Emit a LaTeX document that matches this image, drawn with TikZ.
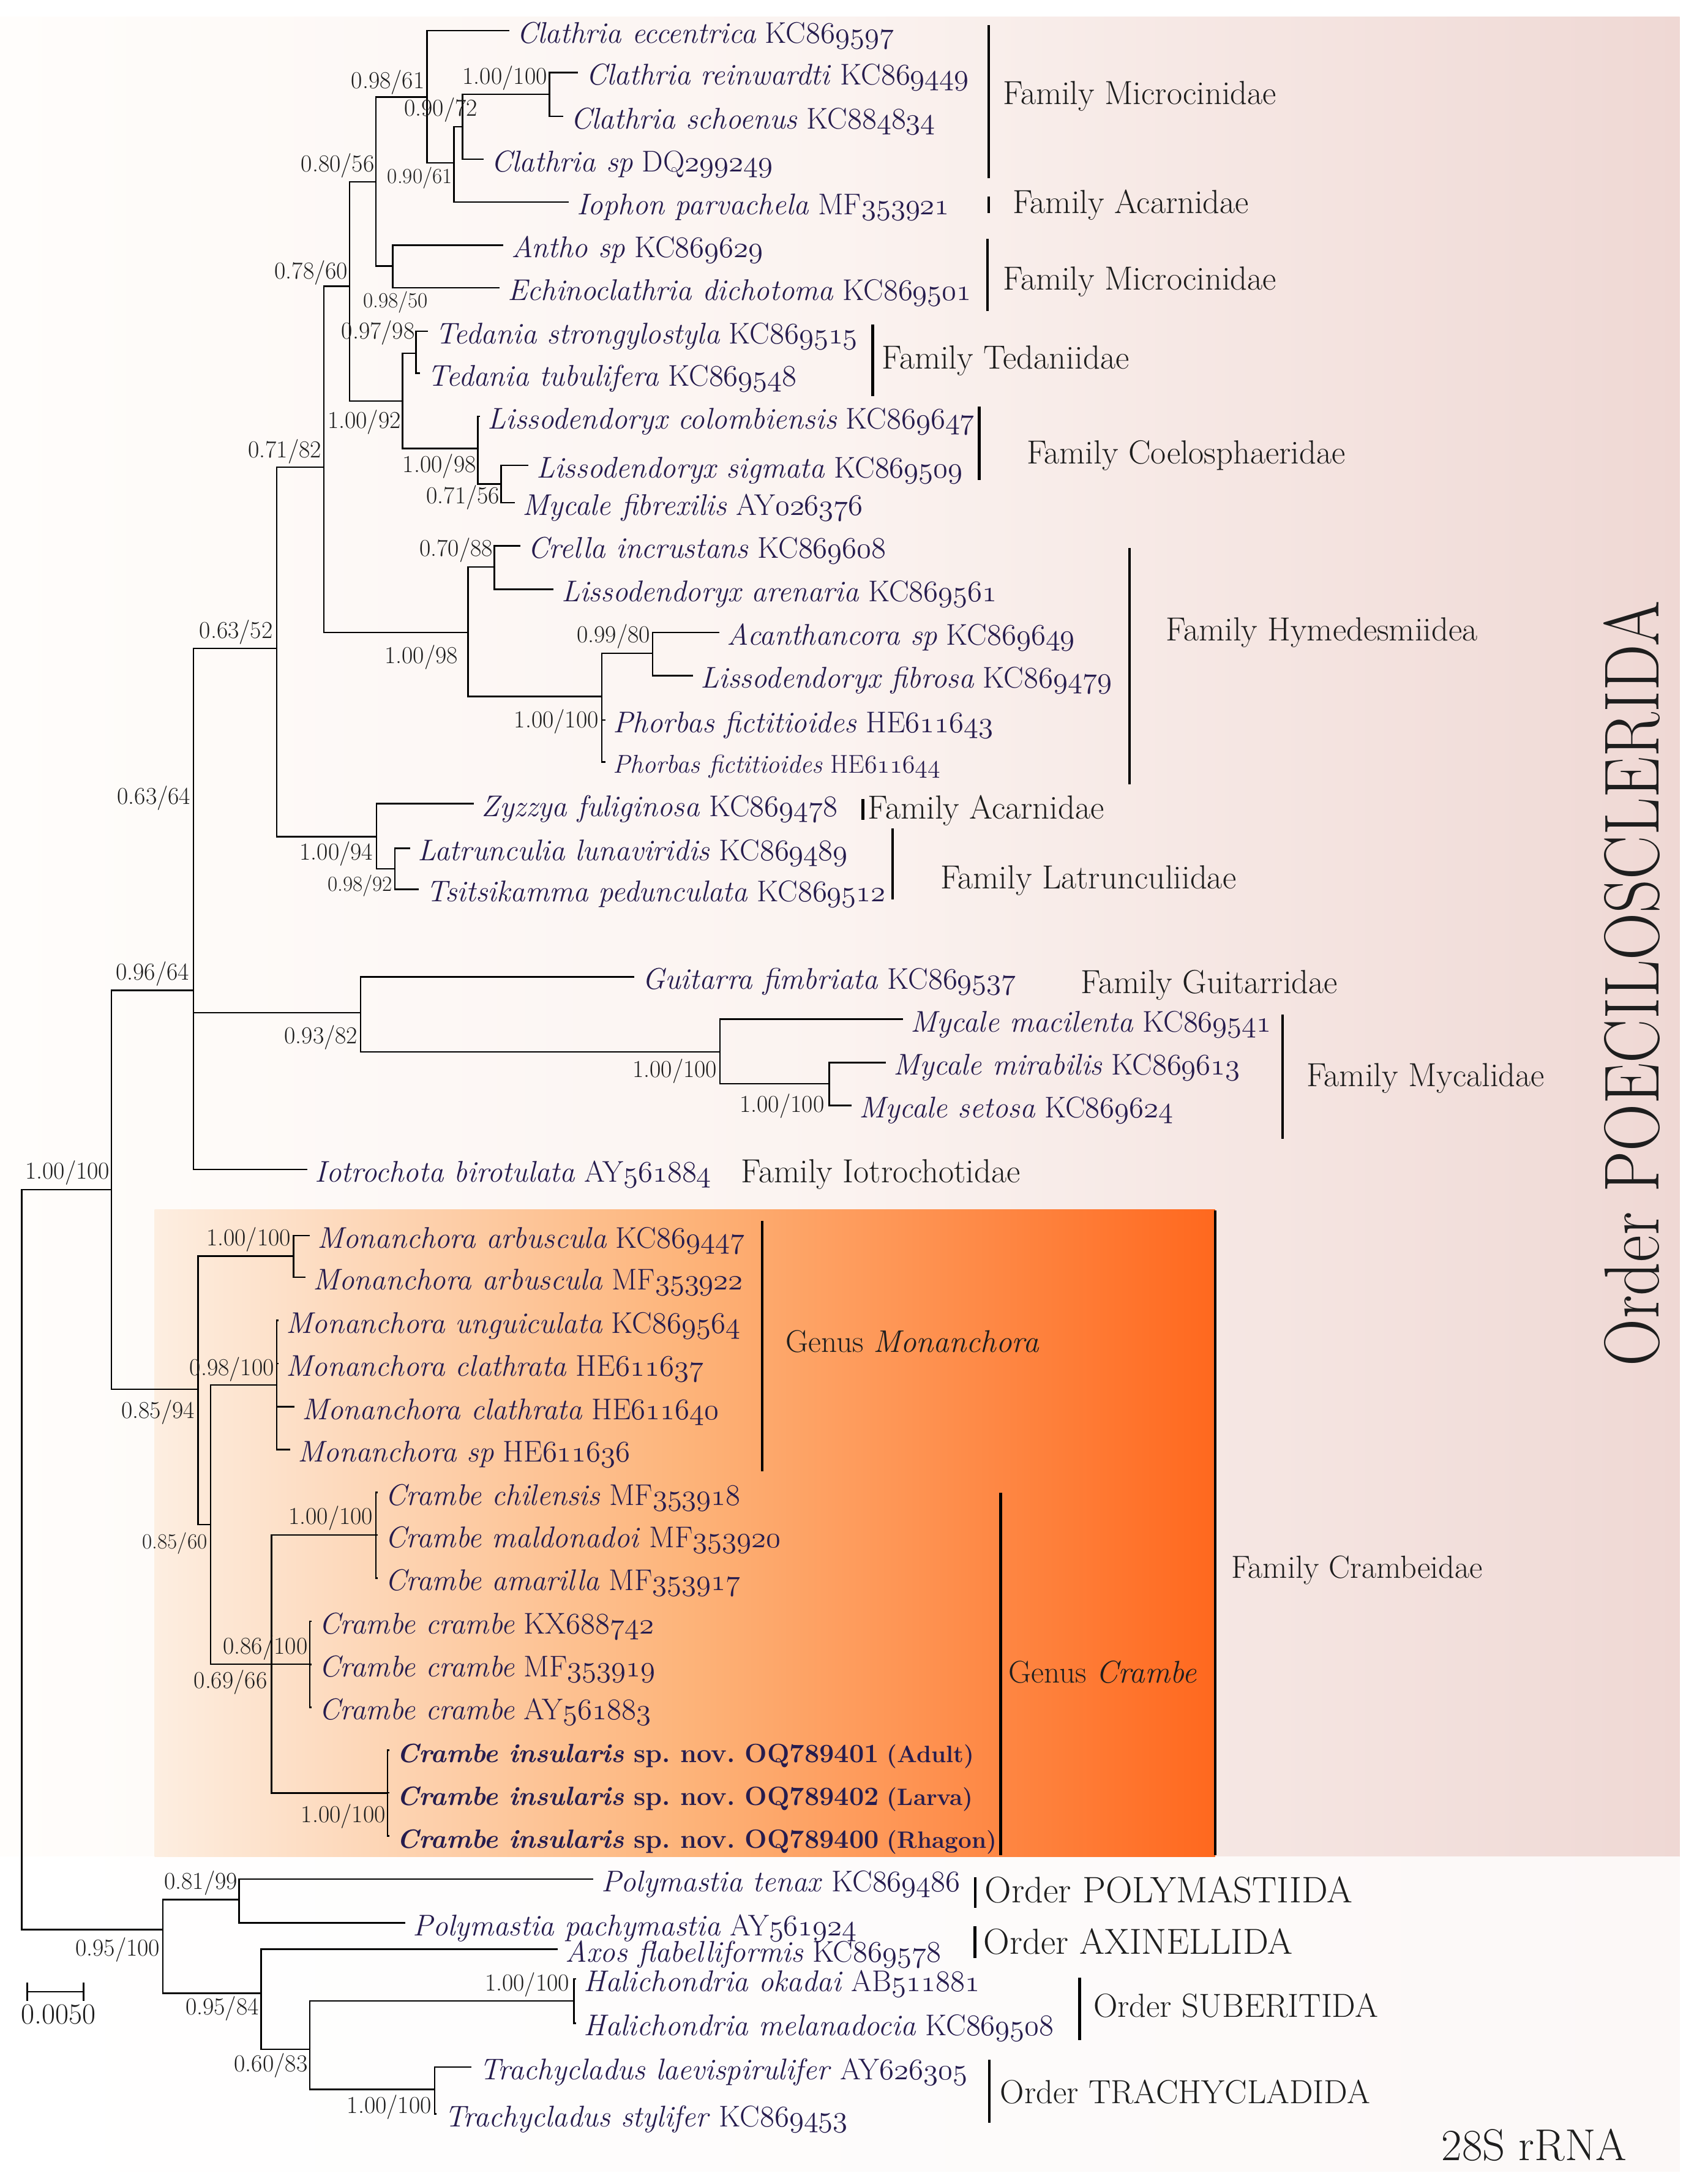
\RequirePackage{fix-cm}
\documentclass[tikz,border=0pt]{standalone}
\usepackage{graphicx}

\definecolor{leafc}{RGB}{38,28,78}
\definecolor{supc}{RGB}{30,30,30}
\definecolor{pkL}{RGB}{255,253,251}
\definecolor{pkM}{RGB}{251,243,240}
\definecolor{pkR}{RGB}{239,216,212}
\definecolor{pkB}{RGB}{252,248,247}
\definecolor{orL}{RGB}{253,238,225}
\definecolor{orM}{RGB}{253,180,122}
\definecolor{orR}{RGB}{255,104,30}

% old style digits for the accession numbers
\newcommand{\osn}[1]{{\usefont{OML}{cmm}{m}{it}#1}}
\newcommand{\taxon}[3]{\textit{#1} #2\osn{#3}}
\newcommand{\insul}[2]{\textbf{\textit{Crambe insularis} sp.\ nov.\ OQ#1} {\fontsize{17}{20}\selectfont\textbf{(#2)}}}

\begin{document}
\begin{tikzpicture}[x=1pt, y=-1pt,
    branch/.style={line width=1.1pt, line cap=rect},
    bracket/.style={line width=2pt},
    leaf/.style={anchor=base west, inner xsep=6pt, inner ysep=0pt, yshift=-9pt, text=leafc, font=\fontsize{21.5}{25}\selectfont},
    sup/.style={inner sep=1pt, text=supc, font=\fontsize{17.5}{20}\selectfont},
    supsmall/.style={sup, font=\fontsize{15.5}{18}\selectfont},
    fam/.style={anchor=base west, inner sep=0pt, yshift=-8pt, text=supc, font=\fontsize{24}{28}\selectfont},
    ord/.style={anchor=base west, inner sep=0pt, yshift=-8pt, text=supc, font=\fontsize{24}{28}\selectfont}]

    % page and backgrounds
    \fill[white] (0,0) rectangle (1224,1568);
    \useasboundingbox (0,0) rectangle (1224,1568);
    \shade[left color=pkL, right color=pkR, middle color=pkM] (0,12) rectangle (1206,1333);
    \shade[left color=white, right color=pkB] (0,1333) rectangle (1206,1559);
    \shade[left color=orL, right color=orR, middle color=orM] (111,868.5) rectangle (872.5,1333);

    % internal nodes
    \coordinate (nR0) at (15.6,1120);
    \coordinate (nV) at (80,854);
    \coordinate (nT) at (139,711);
    \coordinate (nM) at (198.6,465.5);
    \coordinate (nI) at (232.5,335.5);
    \coordinate (nF) at (251,205.5);
    \coordinate (nE) at (270,130.5);
    \coordinate (nA) at (306.5,69.7);
    \coordinate (nB) at (326,117);
    \coordinate (nC) at (332,90.9);
    \coordinate (nD) at (394.6,67.7);
    \coordinate (nG) at (282,191);
    \coordinate (nH) at (289,288);
    \coordinate (nJ) at (298.7,253.6);
    \coordinate (nK) at (343,322);
    \coordinate (nL) at (359.7,347.5);
    \coordinate (nN) at (336,454);
    \coordinate (nO) at (355,407);
    \coordinate (nP) at (432,500);
    \coordinate (nQ) at (468.5,469);
    \coordinate (nR) at (270.4,600.6);
    \coordinate (nS) at (283.5,623.7);
    \coordinate (nU) at (259,727);
    \coordinate (nW) at (517,755.2);
    \coordinate (nX) at (595.3,778);
    \coordinate (nY) at (142.2,997.5);
    \coordinate (nZ1) at (210.8,901.8);
    \coordinate (nY2) at (151.3,1094.6);
    \coordinate (nZ2) at (198.7,994.3);
    \coordinate (nY3) at (195,1194.8);
    \coordinate (nZ3) at (269.8,1102);
    \coordinate (nZ4) at (222.4,1194.8);
    \coordinate (nZ5) at (278.2,1287.3);
    \coordinate (nAA) at (117,1385.4);
    \coordinate (nAB) at (171.7,1363.7);
    \coordinate (nAC) at (187.4,1431);
    \coordinate (nAD) at (222.5,1471.3);
    \coordinate (nAE) at (412.2,1436.6);
    \coordinate (nAF) at (312.2,1500);

    % tips
    \coordinate (e1) at (365,22);
    \coordinate (e2) at (414.6,52);
    \coordinate (e3) at (403.7,83.5);
    \coordinate (e4) at (346.5,114.3);
    \coordinate (e5) at (408,145);
    \coordinate (e6) at (361,176);
    \coordinate (e7) at (358.3,206.6);
    \coordinate (e8) at (306.5,237.9);
    \coordinate (e9) at (301,268);
    \coordinate (e10) at (344,299);
    \coordinate (e11) at (379,334);
    \coordinate (e12) at (369,361);
    \coordinate (e13) at (373,391.8);
    \coordinate (e14) at (397,423);
    \coordinate (e15) at (516,454);
    \coordinate (e16) at (497,485);
    \coordinate (e17) at (434,517);
    \coordinate (e18) at (434,547);
    \coordinate (e19) at (339.7,577);
    \coordinate (e20) at (294,609);
    \coordinate (e21) at (300,638.5);
    \coordinate (e22) at (455,701.3);
    \coordinate (e23) at (647.8,731.7);
    \coordinate (e24) at (635.4,762.8);
    \coordinate (e25) at (610.7,793.6);
    \coordinate (e26) at (220,839.7);
    \coordinate (e27) at (221.7,887);
    \coordinate (e28) at (218.7,917);
    \coordinate (e29) at (199.5,948);
    \coordinate (e30) at (199.5,979);
    \coordinate (e31) at (210.7,1010);
    \coordinate (e32) at (207.8,1040.6);
    \coordinate (e33) at (270.5,1071.5);
    \coordinate (e34) at (270.5,1102);
    \coordinate (e35) at (270.5,1133);
    \coordinate (e36) at (223,1164);
    \coordinate (e37) at (223,1195);
    \coordinate (e38) at (223,1225.7);
    \coordinate (e39) at (279,1256.5);
    \coordinate (e40) at (279,1287);
    \coordinate (e41) at (279,1318);
    \coordinate (e42) at (425.5,1349);
    \coordinate (e43) at (290.4,1380.6);
    \coordinate (e44) at (399.7,1399.5);
    \coordinate (e45) at (413,1420.7);
    \coordinate (e46) at (413,1452.5);
    \coordinate (e47) at (338,1484);
    \coordinate (e48) at (313,1517.7);

    % branches
    \draw[branch] (nR0) |- (nV);
    \draw[branch] (nR0) |- (nAA);
    \draw[branch] (nV) |- (nT);
    \draw[branch] (nV) |- (nY);
    \draw[branch] (nT) |- (nM);
    \draw[branch] (nT) |- (nU);
    \draw[branch] (nT) |- (e26);
    \draw[branch] (nM) |- (nI);
    \draw[branch] (nM) |- (nR);
    \draw[branch] (nI) |- (nF);
    \draw[branch] (nI) |- (nN);
    \draw[branch] (nF) |- (nE);
    \draw[branch] (nF) |- (nH);
    \draw[branch] (nE) |- (nA);
    \draw[branch] (nE) |- (nG);
    \draw[branch] (nA) |- (e1);
    \draw[branch] (nA) |- (nB);
    \draw[branch] (nB) |- (nC);
    \draw[branch] (nB) |- (e5);
    \draw[branch] (nC) |- (nD);
    \draw[branch] (nC) |- (e4);
    \draw[branch] (nD) |- (e2);
    \draw[branch] (nD) |- (e3);
    \draw[branch] (nG) |- (e6);
    \draw[branch] (nG) |- (e7);
    \draw[branch] (nH) |- (nJ);
    \draw[branch] (nH) |- (nK);
    \draw[branch] (nJ) |- (e8);
    \draw[branch] (nJ) |- (e9);
    \draw[branch] (nK) |- (e10);
    \draw[branch] (nK) |- (nL);
    \draw[branch] (nL) |- (e11);
    \draw[branch] (nL) |- (e12);
    \draw[branch] (nN) |- (nO);
    \draw[branch] (nN) |- (nP);
    \draw[branch] (nO) |- (e13);
    \draw[branch] (nO) |- (e14);
    \draw[branch] (nP) |- (nQ);
    \draw[branch] (nP) |- (e17);
    \draw[branch] (nP) |- (e18);
    \draw[branch] (nQ) |- (e15);
    \draw[branch] (nQ) |- (e16);
    \draw[branch] (nR) |- (e19);
    \draw[branch] (nR) |- (nS);
    \draw[branch] (nS) |- (e20);
    \draw[branch] (nS) |- (e21);
    \draw[branch] (nU) |- (e22);
    \draw[branch] (nU) |- (nW);
    \draw[branch] (nW) |- (e23);
    \draw[branch] (nW) |- (nX);
    \draw[branch] (nX) |- (e24);
    \draw[branch] (nX) |- (e25);
    \draw[branch] (nY) |- (nZ1);
    \draw[branch] (nY) |- (nY2);
    \draw[branch] (nZ1) |- (e27);
    \draw[branch] (nZ1) |- (e28);
    \draw[branch] (nY2) |- (nZ2);
    \draw[branch] (nY2) |- (nY3);
    \draw[branch] (nZ2) |- (e29);
    \draw[branch] (nZ2) |- (e30);
    \draw[branch] (nZ2) |- (e31);
    \draw[branch] (nZ2) |- (e32);
    \draw[branch] (nY3) |- (nZ3);
    \draw[branch] (nY3) |- (nZ4);
    \draw[branch] (nY3) |- (nZ5);
    \draw[branch] (nZ3) |- (e33);
    \draw[branch] (nZ3) |- (e34);
    \draw[branch] (nZ3) |- (e35);
    \draw[branch] (nZ4) |- (e36);
    \draw[branch] (nZ4) |- (e37);
    \draw[branch] (nZ4) |- (e38);
    \draw[branch] (nZ5) |- (e39);
    \draw[branch] (nZ5) |- (e40);
    \draw[branch] (nZ5) |- (e41);
    \draw[branch] (nAA) |- (nAB);
    \draw[branch] (nAA) |- (nAC);
    \draw[branch] (nAB) |- (e42);
    \draw[branch] (nAB) |- (e43);
    \draw[branch] (nAC) |- (e44);
    \draw[branch] (nAC) |- (nAD);
    \draw[branch] (nAD) |- (nAE);
    \draw[branch] (nAD) |- (nAF);
    \draw[branch] (nAE) |- (e45);
    \draw[branch] (nAE) |- (e46);
    \draw[branch] (nAF) |- (e47);
    \draw[branch] (nAF) |- (e48);

    % taxa
    \node[leaf] (l1) at (e1) {\taxon{Clathria eccentrica}{KC}{869597}};
    \node[leaf] (l2) at (e2) {\taxon{Clathria reinwardti}{KC}{869449}};
    \node[leaf] (l3) at (e3) {\taxon{Clathria schoenus}{KC}{884834}};
    \node[leaf] (l4) at (e4) {\taxon{Clathria sp}{DQ}{299249}};
    \node[leaf] (l5) at (e5) {\taxon{Iophon parvachela}{MF}{353921}};
    \node[leaf] (l6) at (e6) {\taxon{Antho sp}{KC}{869629}};
    \node[leaf] (l7) at (e7) {\taxon{Echinoclathria dichotoma}{KC}{869501}};
    \node[leaf] (l8) at (e8) {\taxon{Tedania strongylostyla}{KC}{869515}};
    \node[leaf] (l9) at (e9) {\taxon{Tedania tubulifera}{KC}{869548}};
    \node[leaf] (l10) at (e10) {\taxon{Lissodendoryx colombiensis}{KC}{869647}};
    \node[leaf] (l11) at (e11) {\taxon{Lissodendoryx sigmata}{KC}{869509}};
    \node[leaf] (l12) at (e12) {\taxon{Mycale fibrexilis}{AY}{026376}};
    \node[leaf] (l13) at (e13) {\taxon{Crella incrustans}{KC}{869608}};
    \node[leaf] (l14) at (e14) {\taxon{Lissodendoryx arenaria}{KC}{869561}};
    \node[leaf] (l15) at (e15) {\taxon{Acanthancora sp}{KC}{869649}};
    \node[leaf] (l16) at (e16) {\taxon{Lissodendoryx fibrosa}{KC}{869479}};
    \node[leaf] (l17) at (e17) {\taxon{Phorbas fictitioides}{HE}{611643}};
    \node[leaf, yshift=1pt, font=\fontsize{18.5}{22}\selectfont] (l18) at (e18) {\taxon{Phorbas fictitioides}{HE}{611644}};
    \node[leaf] (l19) at (e19) {\taxon{Zyzzya fuliginosa}{KC}{869478}};
    \node[leaf] (l20) at (e20) {\taxon{Latrunculia lunaviridis}{KC}{869489}};
    \node[leaf] (l21) at (e21) {\taxon{Tsitsikamma pedunculata}{KC}{869512}};
    \node[leaf] (l22) at (e22) {\taxon{Guitarra fimbriata}{KC}{869537}};
    \node[leaf] (l23) at (e23) {\taxon{Mycale macilenta}{KC}{869541}};
    \node[leaf] (l24) at (e24) {\taxon{Mycale mirabilis}{KC}{869613}};
    \node[leaf] (l25) at (e25) {\taxon{Mycale setosa}{KC}{869624}};
    \node[leaf] (l26) at (e26) {\taxon{Iotrochota birotulata}{AY}{561884}};
    \node[leaf] (l27) at (e27) {\taxon{Monanchora arbuscula}{KC}{869447}};
    \node[leaf] (l28) at (e28) {\taxon{Monanchora arbuscula}{MF}{353922}};
    \node[leaf] (l29) at (e29) {\taxon{Monanchora unguiculata}{KC}{869564}};
    \node[leaf] (l30) at (e30) {\taxon{Monanchora clathrata}{HE}{611637}};
    \node[leaf] (l31) at (e31) {\taxon{Monanchora clathrata}{HE}{611640}};
    \node[leaf] (l32) at (e32) {\taxon{Monanchora sp}{HE}{611636}};
    \node[leaf] (l33) at (e33) {\taxon{Crambe chilensis}{MF}{353918}};
    \node[leaf] (l34) at (e34) {\taxon{Crambe maldonadoi}{MF}{353920}};
    \node[leaf] (l35) at (e35) {\taxon{Crambe amarilla}{MF}{353917}};
    \node[leaf] (l36) at (e36) {\taxon{Crambe crambe}{KX}{688742}};
    \node[leaf] (l37) at (e37) {\taxon{Crambe crambe}{MF}{353919}};
    \node[leaf] (l38) at (e38) {\taxon{Crambe crambe}{AY}{561883}};
    \node[leaf, font=\fontsize{19}{23}\selectfont] (l39) at (e39) {\insul{789401}{Adult}};
    \node[leaf, font=\fontsize{19}{23}\selectfont] (l40) at (e40) {\insul{789402}{Larva}};
    \node[leaf, font=\fontsize{19}{23}\selectfont] (l41) at (e41) {\insul{789400}{Rhagon}};
    \node[leaf] (l42) at (e42) {\taxon{Polymastia tenax}{KC}{869486}};
    \node[leaf] (l43) at (e43) {\taxon{Polymastia pachymastia}{AY}{561924}};
    \node[leaf] (l44) at (e44) {\taxon{Axos flabelliformis}{KC}{869578}};
    \node[leaf] (l45) at (e45) {\taxon{Halichondria okadai}{AB}{511881}};
    \node[leaf] (l46) at (e46) {\taxon{Halichondria melanadocia}{KC}{869508}};
    \node[leaf] (l47) at (e47) {\taxon{Trachycladus laevispirulifer}{AY}{626305}};
    \node[leaf] (l48) at (e48) {\taxon{Trachycladus stylifer}{KC}{869453}};

    % support values
    \node[sup, anchor=south east] (s1) at (306,69) {0.98/61};
    \node[sup, anchor=south east] (s2) at (394,66) {1.00/100};
    \node[sup, anchor=south east] (s3) at (344,89) {0.90/72};
    \node[supsmall, anchor=north east] (s4) at (326,119) {0.90/61};
    \node[sup, anchor=south east] (s5) at (270,129) {0.80/56};
    \node[sup, anchor=south east] (s6) at (251,206) {0.78/60};
    \node[supsmall, anchor=north] (s7) at (284,208) {0.98/50};
    \node[sup, anchor=east] (s8) at (299,239) {0.97/98};
    \node[sup, anchor=east] (s9) at (289,303) {1.00/92};
    \node[sup, anchor=south east] (s10) at (232,334) {0.71/82};
    \node[sup, anchor=north east] (s11) at (343,325) {1.00/98};
    \node[sup, anchor=east] (s12) at (360,357) {0.71/56};
    \node[sup, anchor=south east] (s13) at (355,405) {0.70/88};
    \node[sup, anchor=east] (s14) at (330,472) {1.00/98};
    \node[sup, anchor=south east] (s15) at (468,467) {0.99/80};
    \node[sup, anchor=east] (s16) at (431,518) {1.00/100};
    \node[sup, anchor=south east] (s17) at (197,464) {0.63/52};
    \node[sup, anchor=east] (s18) at (269,613) {1.00/94};
    \node[supsmall, anchor=east] (s19) at (283,636) {0.98/92};
    \node[sup, anchor=east] (s20) at (138,573) {0.63/64};
    \node[sup, anchor=south east] (s21) at (137,709) {0.96/64};
    \node[sup, anchor=east] (s22) at (258,745) {0.93/82};
    \node[sup, anchor=east] (s23) at (516,769) {1.00/100};
    \node[sup, anchor=east] (s24) at (593,794) {1.00/100};
    \node[sup, anchor=south east] (s25) at (80,852) {1.00/100};
    \node[sup, anchor=north east] (s26) at (141,1004) {0.85/94};
    \node[sup, anchor=south east] (s27) at (210,900) {1.00/100};
    \node[sup, anchor=south east] (s28) at (198,993) {0.98/100};
    \node[supsmall, anchor=north east] (s29) at (150,1099) {0.85/60};
    \node[sup, anchor=south east] (s30) at (269,1100) {1.00/100};
    \node[sup, anchor=south east] (s31) at (222,1193) {0.86/100};
    \node[sup, anchor=north east] (s32) at (193,1198) {0.69/66};
    \node[sup, anchor=north east] (s33) at (278,1294) {1.00/100};
    \node[sup, anchor=south east] (s34) at (171.7,1362) {0.81/99};
    \node[sup, anchor=east] (s35) at (116,1400) {0.95/100};
    \node[sup, anchor=east] (s36) at (187,1442) {0.95/84};
    \node[sup, anchor=south east] (s37) at (410,1435) {1.00/100};
    \node[sup, anchor=east] (s38) at (222,1483) {0.60/83};
    \node[sup, anchor=east] (s39) at (311,1513) {1.00/100};

    % brackets
    \draw[bracket] (710,18) -- (710,128);
    \draw[bracket] (710,141) -- (710,153);
    \draw[bracket] (709,171.5) -- (709,223.5);
    \draw[bracket] (626.5,233) -- (626.5,284.5);
    \draw[bracket] (703,292) -- (703,344.5);
    \draw[bracket] (811,393.5) -- (811,563);
    \draw[bracket] (619.6,573.6) -- (619.6,588.7);
    \draw[bracket] (641,594.7) -- (641,645.8);
    \draw[bracket] (921,728.4) -- (921,817.8);
    \draw[bracket] (547.2,876.5) -- (547.2,1056.3);
    \draw[bracket] (718.4,1071.7) -- (718.4,1332);
    \draw[bracket] (872.5,869) -- (872.5,1332);
    \draw[bracket] (700.2,1347.6) -- (700.2,1369.8);
    \draw[bracket] (700,1383) -- (700,1405.6);
    \draw[bracket] (775.2,1420) -- (775.2,1464.5);
    \draw[bracket] (710.4,1478.8) -- (710.4,1524);

    % group names
    \node[fam] (f1) at (720,67) {Family Microcinidae};
    \node[fam] (f2) at (727,145) {Family Acarnidae};
    \node[fam] (f3) at (720,200) {Family Microcinidae};
    \node[fam] (f4) at (633,257) {Family Tedaniidae};
    \node[fam] (f5) at (737,325) {Family Coelosphaeridae};
    \node[fam] (f6) at (837,452) {Family Hymedesmiidea};
    \node[fam] (f7) at (623,580) {Family Acarnidae};
    \node[fam] (f8) at (675,630) {Family Latrunculiidae};
    \node[fam] (f9) at (776,705) {Family Guitarridae};
    \node[fam] (f10) at (938,772) {Family Mycalidae};
    \node[fam] (f11) at (532,841) {Family Iotrochotidae};
    \node[fam, font=\fontsize{22.5}{26}\selectfont] (g1) at (564,963) {Genus \textit{Monanchora}};
    \node[fam, font=\fontsize{22.5}{26}\selectfont] (g2) at (724,1200) {Genus \textit{Crambe}};
    \node[fam, font=\fontsize{23}{27}\selectfont] (f12) at (884,1125) {Family Crambeidae};
    \node[ord, font=\fontsize{26.5}{30}\selectfont] (o1) at (707,1358) {Order POLYMASTIIDA};
    \node[ord, font=\fontsize{26}{30}\selectfont] (o2) at (706,1395) {Order AXINELLIDA};
    \node[ord] (o3) at (785,1440) {Order SUBERITIDA};
    \node[ord] (o4) at (718,1502) {Order TRACHYCLADIDA};
    \node[rotate=90, anchor=base, inner sep=0pt, text=supc] (o5) at (1191,706)
        {\scalebox{0.84}[1]{\fontsize{56}{60}\selectfont Order POECILOSCLERIDA}};

    % scale bar and gene
    \draw[branch] (19.5,1430) -- (60,1430);
    \draw[branch] (19.5,1424) -- (19.5,1436);
    \draw[branch] (60,1424) -- (60,1436);
    \node[anchor=base, inner sep=0pt, text=supc, font=\fontsize{21}{24}\selectfont] (bar) at (42,1453) {0.0050};
    \node[anchor=base west, inner sep=0pt, text=supc, font=\fontsize{32}{36}\selectfont] (gene) at (1035,1551) {28S rRNA};
\end{tikzpicture}
\end{document}
